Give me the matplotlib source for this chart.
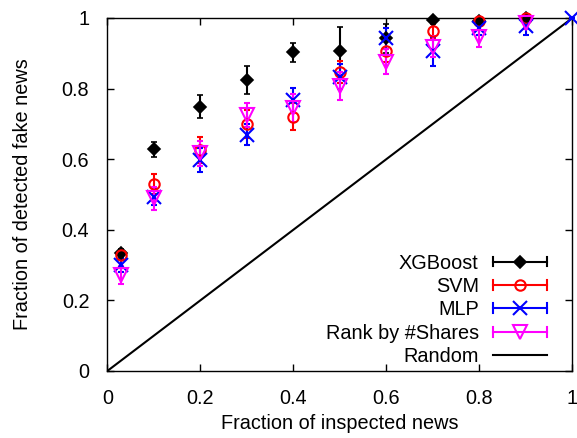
import matplotlib
matplotlib.use("Agg")
import matplotlib.pyplot as plt
from matplotlib.lines import Line2D
from matplotlib.legend_handler import HandlerBase

plt.rcParams['font.family'] = ['Liberation Sans', 'DejaVu Sans']

x_frac = [0.03, 0.1, 0.2, 0.3, 0.4, 0.5, 0.6, 0.7, 0.8, 0.9]
x_frac_mlp = [0.03, 0.1, 0.2, 0.3, 0.4, 0.5, 0.6, 0.7, 0.8, 0.9, 1.0]

xgb_y = [0.333, 0.628, 0.749, 0.824, 0.903, 0.907, 0.942, 0.994, 0.990, 1.0]
xgb_err = [0.012, 0.022, 0.033, 0.040, 0.027, 0.068, 0.040, 0.010, 0.010, 0.005]

svm_y = [0.329, 0.529, 0.626, 0.700, 0.720, 0.848, 0.905, 0.963, 0.991, 1.0]
svm_err = [0.012, 0.028, 0.036, 0.040, 0.038, 0.031, 0.030, 0.020, 0.010, 0.005]

mlp_y = [0.300, 0.494, 0.598, 0.669, 0.768, 0.834, 0.942, 0.905, 0.971, 0.976, 1.0]
mlp_err = [0.020, 0.025, 0.034, 0.030, 0.033, 0.035, 0.030, 0.040, 0.020, 0.024, 0.0]

rank_y = [0.272, 0.489, 0.617, 0.725, 0.744, 0.807, 0.876, 0.919, 0.947, 0.985]
rank_err = [0.025, 0.033, 0.035, 0.035, 0.040, 0.040, 0.035, 0.030, 0.030, 0.015]

random_x = [0.0, 1.0]
random_y = [0.0, 1.0]

labels = ["XGBoost", "SVM", "MLP", "Rank by #Shares", "Random"]
ticks = [0, 0.2, 0.4, 0.6, 0.8, 1]
tick_labels = ["0", "0.2", "0.4", "0.6", "0.8", "1"]

series = [
    (x_frac, xgb_y, xgb_err, dict(color='black', marker='D', ms=6.6, mfc='black', mew=1.2)),
    (x_frac, svm_y, svm_err, dict(color='red', marker='o', ms=7.5, mfc='none', mew=1.5)),
    (x_frac_mlp, mlp_y, mlp_err, dict(color='blue', marker='x', ms=9.5, mfc='none', mew=1.5)),
    (x_frac, rank_y, rank_err, dict(color='magenta', marker='v', ms=10, mfc='none', mew=1.5)),
]

FS = 14.3

fig = plt.figure(figsize=(5.77, 4.38), dpi=100)
ax = fig.add_axes([0.186, 0.153, 0.806, 0.806])

ax.plot(random_x, random_y, color='black', lw=1.5, zorder=1)

for xs, y, e, st in series:
    ax.errorbar(xs, y, yerr=e, ls='none', color=st['color'], elinewidth=1.5,
                capsize=2.5, capthick=1.5, marker=st['marker'], ms=st['ms'],
                mfc=st['mfc'], mec=st['color'], mew=st['mew'], zorder=3,
                clip_on=False)

ax.set_xlim(0, 1)
ax.set_ylim(0, 1)
ax.set_xticks(ticks)
ax.set_xticklabels(tick_labels)
ax.set_yticks(ticks)
ax.set_yticklabels(tick_labels)
ax.tick_params(direction='in', length=5, width=1, top=True, right=True,
               labelsize=FS, pad=13)
for s in ax.spines.values():
    s.set_linewidth(1)
ax.set_xlabel("Fraction of inspected news", fontsize=FS, labelpad=4)
ax.set_ylabel("Fraction of detected fake news", fontsize=FS, labelpad=21)


class ErrHandler(HandlerBase):
    def create_artists(self, legend, orig_handle, xdescent, ydescent, width,
                       height, fontsize, trans):
        c = orig_handle.get_color()
        y0 = height / 2 - ydescent
        x0 = -xdescent
        x1 = width - xdescent
        arts = [Line2D([x0, x1], [y0, y0], color=c, lw=1.5, transform=trans)]
        if orig_handle.get_marker() not in (None, 'None', '', ' '):
            cap = 3.5
            arts.append(Line2D([x0, x0], [y0 - cap, y0 + cap], color=c, lw=1.5, transform=trans))
            arts.append(Line2D([x1, x1], [y0 - cap, y0 + cap], color=c, lw=1.5, transform=trans))
            arts.append(Line2D([(x0 + x1) / 2], [y0], marker=orig_handle.get_marker(),
                               ms=orig_handle.get_markersize(), mfc=orig_handle.get_markerfacecolor(),
                               mec=c, mew=orig_handle.get_markeredgewidth(), ls='none',
                               transform=trans))
        return arts


handles = []
for xs, y, e, st in series:
    handles.append(Line2D([], [], color=st['color'], marker=st['marker'],
                          ms=st['ms'], mfc=st['mfc'], mew=st['mew']))
handles.append(Line2D([], [], color='black', marker='None'))

leg = ax.legend(handles, labels, handler_map={Line2D: ErrHandler()},
                loc='lower right', bbox_to_anchor=(0.946, 0.014), borderaxespad=0,
                borderpad=0, frameon=False, markerfirst=False, fontsize=FS,
                handlelength=2.75, handletextpad=0.7, labelspacing=0.22)

fig.savefig("out.png", dpi=100)
